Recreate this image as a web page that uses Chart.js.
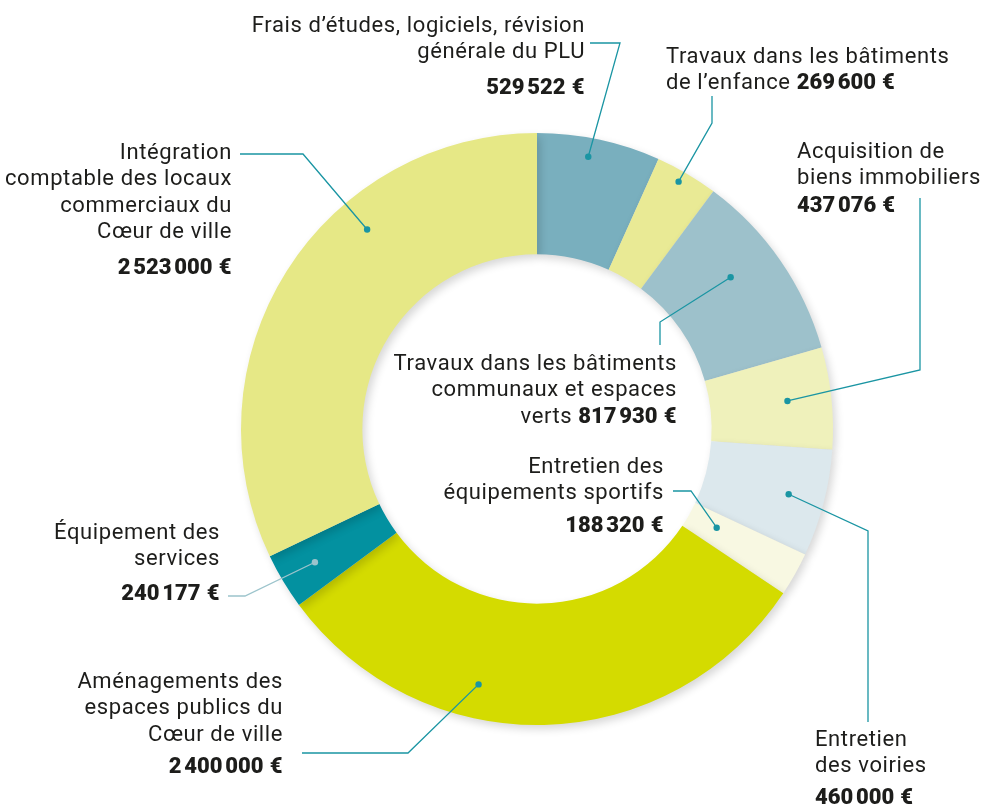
<html>
  <head>
    <script src="https://cdn.jsdelivr.net/npm/chart.js@4"></script>
    <title>Investissements</title>
    <style>
      body { margin: 0; background: #fff; }
    </style>
  </head>
  <body>
    <canvas id="myChart" width="986" height="808" style="display:block;width:986px;height:808px;"></canvas>
    <script>
// données du graphique
const categories = [
  "Frais d’études, logiciels, révision générale du PLU",
  "Travaux dans les bâtiments de l’enfance",
  "Travaux dans les bâtiments communaux et espaces verts",
  "Acquisition de biens immobiliers",
  "Entretien des voiries",
  "Entretien des équipements sportifs",
  "Aménagements des espaces publics du Cœur de ville",
  "Équipement des services",
  "Intégration comptable des locaux commerciaux du Cœur de ville"
];
const values = [529522, 269600, 817930, 437076, 460000, 188320, 2400000, 240177, 2523000];
const colors = ["#79afbe", "#e9ea95", "#9dc1cb", "#eff1bb", "#dce8ed", "#f8f8e2", "#d4db00", "#0391a0", "#e6e886"];
// texte des étiquettes (lignes)
const labelLines = [
  ["Frais d’études, logiciels, révision", "générale du PLU"],
  ["Travaux dans les bâtiments", "de l’enfance"],
  ["Travaux dans les bâtiments", "communaux et espaces", "verts"],
  ["Acquisition de", "biens immobiliers"],
  ["Entretien", "des voiries"],
  ["Entretien des", "équipements sportifs"],
  ["Aménagements des", "espaces publics du", "Cœur de ville"],
  ["Équipement des", "services"],
  ["Intégration", "comptable des locaux", "commerciaux du", "Cœur de ville"]
];

function euro(v) {
  return v.toString().replace(/\B(?=(\d{3})+(?!\d))/g, "\u202F") + " €";
}

// mise en page des étiquettes : x, y de la 1re ligne, alignement, y de la valeur (null = sur la dernière ligne)
// frac / r : position du point dans la tranche ; path : chemin du trait
const layout = [
  { x: 585, y: 26, align: "right", vy: 88, frac: 0.44, r: 277, path: [[620, 43], [590, 43]] },
  { x: 666, y: 57, align: "left", vy: null, frac: 0.45, r: 285, path: [[712, 123], [712, 96]] },
  { x: 677, y: 364, align: "right", vy: null, frac: 0.41, r: 246, path: [[660, 322], [660, 345]] },
  { x: 797, y: 152, align: "left", vy: 206, frac: 0.48, r: 252, path: [[920, 370], [920, 198]] },
  { x: 815, y: 740, align: "left", vy: 798, frac: 0.5, r: 260, path: [[868, 531], [868, 722]] },
  { x: 664, y: 467, align: "right", vy: 526, frac: 0.43, r: 205, path: [[691, 491], [673, 491]] },
  { x: 283, y: 682, align: "right", vy: 767, frac: 0.63, r: 262, path: [[408, 753], [302, 753]] },
  { x: 220, y: 533, align: "right", vy: 594, frac: 0.5, r: 259, path: [[245, 596], [228, 596]], color: "#9cc4cc" },
  { x: 232, y: 153, align: "right", vy: 268, frac: 0.65, r: 262, path: [[303, 154], [240, 154]] }
];

const FONT = "22px Roboto";
const BOLD = "900 22px Roboto";
const SPACING = "0.6px";
const LINE = 26.5;

const labelPlugin = {
  id: "leaderLabels",
  beforeDatasetsDraw(chart) {
    const ctx = chart.ctx;
    ctx.save();
    ctx.shadowColor = "rgba(0,0,0,0.16)";
    ctx.shadowBlur = 9;
    ctx.shadowOffsetX = 3;
    ctx.shadowOffsetY = 4;
  },
  afterDatasetsDraw(chart) {
    chart.ctx.restore();
  },
  afterDraw(chart) {
    const ctx = chart.ctx;
    const arcs = chart.getDatasetMeta(0).data;
    ctx.save();
    ctx.letterSpacing = SPACING;
    layout.forEach((L, i) => {
      const a = arcs[i];
      const ang = a.startAngle + (a.endAngle - a.startAngle) * L.frac;
      const px = a.x + L.r * Math.cos(ang);
      const py = a.y + L.r * Math.sin(ang);
      const col = L.color || "#1a95a3";
      ctx.strokeStyle = col;
      ctx.lineWidth = 1.3;
      ctx.beginPath();
      ctx.moveTo(px, py);
      L.path.forEach(p => ctx.lineTo(p[0], p[1]));
      ctx.stroke();
      ctx.fillStyle = col;
      ctx.beginPath();
      ctx.arc(px, py, 3.2, 0, Math.PI * 2);
      ctx.fill();

      // texte
      ctx.fillStyle = "#1d1d1b";
      ctx.textBaseline = "middle";
      const lines = labelLines[i];
      const val = euro(values[i]);
      lines.forEach((t, k) => {
        const y = L.y + k * LINE;
        const last = k === lines.length - 1;
        if (last && L.vy === null) {
          ctx.font = FONT;
          const tw = ctx.measureText(t + " ").width;
          ctx.font = BOLD;
          const vw = ctx.measureText(val).width;
          const x0 = L.align === "right" ? L.x - tw - vw : L.x;
          ctx.textAlign = "left";
          ctx.font = FONT;
          ctx.fillText(t + " ", x0, y);
          ctx.font = BOLD;
          ctx.fillText(val, x0 + tw, y);
        } else {
          ctx.font = FONT;
          ctx.textAlign = L.align;
          ctx.fillText(t, L.x, y);
        }
      });
      if (L.vy !== null) {
        ctx.font = BOLD;
        ctx.textAlign = L.align;
        ctx.fillText(val, L.x, L.vy);
      }
    });
    ctx.restore();
  }
};

var ctx = document.getElementById("myChart");
var myChart = new Chart(ctx, {
  type: "doughnut",
  data: {
    labels: categories,
    datasets: [{
      data: values,
      backgroundColor: colors,
      borderWidth: 0,
      hoverOffset: 0
    }]
  },
  options: {
    responsive: false,
    animation: false,
    cutout: "59%",
    rotation: 0,
    layout: { padding: { left: 241, right: 153, top: 133, bottom: 83 } },
    plugins: {
      legend: { display: false },
      tooltip: { enabled: false }
    }
  },
  plugins: [labelPlugin]
});
    </script>
  </body>
</html>
